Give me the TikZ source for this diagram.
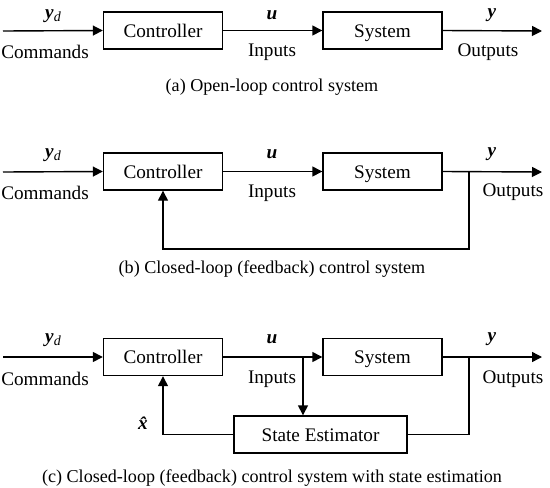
\documentclass[tikz,border=0pt]{standalone}
\usepackage{fontspec}
\setmainfont{Liberation Serif}
\usetikzlibrary{arrows.meta,calc}
\begin{document}
\begin{tikzpicture}[x=1pt,y=-1pt,
  font=\fontsize{19.2}{22}\selectfont,
  blk/.style={draw,line width=1.4pt,minimum width=119pt,minimum height=37pt,inner sep=0pt,text height=15pt,text depth=2pt},
  wire/.style={line width=1.4pt},
  arr/.style={wire,-{Triangle[length=10pt,width=10pt]}},
  lbl/.style={inner sep=0pt,anchor=center},
  capt/.style={lbl,font=\fontsize{18.1}{22}\selectfont}]
\useasboundingbox (0,0) rectangle (550,488);
\newcommand{\yd}{{\bfseries\itshape y}\raisebox{-0.35ex}{\fontsize{14}{16}\selectfont\itshape d}}
\newcommand{\bu}{{\bfseries\itshape u}}
\newcommand{\by}{{\bfseries\itshape y}}
% ---------- (a)
\coordinate (ain) at (3,31);
\coordinate (aout) at (542,31);
\node[blk] (actl) at (163,30.5) {Controller};
\node[blk] (asys) at (382.5,30.5) {System};
\draw[arr] (ain) -- (actl.west);
\draw[arr] (actl.east) -- (asys.west);
\draw[arr] (asys.east) -- (aout);
\node[lbl] (ayd) at (53,16) {\yd};
\node[lbl] (au) at (272,15) {\bu};
\node[lbl] (ay) at (492,15) {\by};
\node[lbl] (acmd) at (45,52) {Commands};
\node[lbl] (ainp) at (272,52) {Inputs};
\node[lbl] (aoutp) at (488,52) {Outputs};
\node[capt] (acap) at (272,87) {(a) Open-loop control system};
% ---------- (b)
\coordinate (bin) at (3,172);
\coordinate (bout) at (542,172);
\node[blk] (bctl) at (163,171.5) {Controller};
\node[blk] (bsys) at (382.5,171.5) {System};
\coordinate (bbr) at (469,172);
\coordinate (bbot) at (469,249);
\draw[arr] (bin) -- (bctl.west);
\draw[arr] (bctl.east) -- (bsys.west);
\draw[arr] (bsys.east) -- (bout);
\draw[arr] (bbr) -- (bbot) -| (bctl.south);
\node[lbl] (byd) at (53,155) {\yd};
\node[lbl] (bu) at (272,154) {\bu};
\node[lbl] (by) at (492,154) {\by};
\node[lbl] (bcmd) at (45,193) {Commands};
\node[lbl] (binp) at (272,193) {Inputs};
\node[lbl] (boutp) at (513,192) {Outputs};
\node[capt] (bcap) at (272,269) {(b) Closed-loop (feedback) control system};
% ---------- (c)
\coordinate (cin) at (3,357);
\coordinate (cout) at (542,357);
\node[blk] (cctl) at (163,357) {Controller};
\node[blk] (csys) at (382.5,357) {System};
\node[blk,minimum width=173pt] (cest) at (320.5,434.5) {State Estimator};
\coordinate (cbu) at (303,357);
\coordinate (cbr) at (469,357);
\draw[arr] (cin) -- (cctl.west);
\draw[arr] (cctl.east) -- (csys.west);
\draw[arr] (csys.east) -- (cout);
\draw[arr] (cbu) -- (cbu |- cest.north);
\draw[wire] (cbr) |- (cest.east);
\draw[arr] (cest.west) -| (cctl.south);
\node[lbl] (cyd) at (53,340) {\yd};
\node[lbl] (cu) at (272,339) {\bu};
\node[lbl] (cy) at (492,339) {\by};
\node[lbl] (cxh) at (143,423) {{\bfseries\itshape \^x}};
\node[lbl] (ccmd) at (45,379) {Commands};
\node[lbl] (cinp) at (272,379) {Inputs};
\node[lbl] (coutp) at (513,379) {Outputs};
\node[capt] (ccap) at (272,478) {(c) Closed-loop (feedback) control system with state estimation};
\end{tikzpicture}
\end{document}
